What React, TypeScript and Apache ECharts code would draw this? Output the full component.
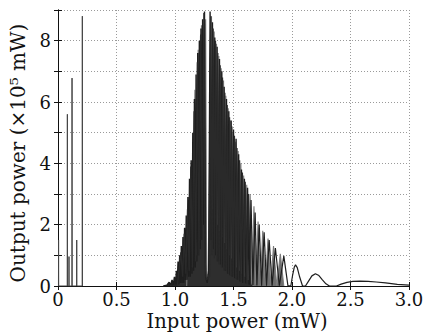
import React, { useEffect, useRef } from "react";
import * as echarts from "echarts";

// x-axis tick labels and y-axis tick labels
const xTicks = ["0", "0.5", "1.0", "1.5", "2.0", "2.5", "3.0"];
const yTicks = ["0", "2", "4", "6", "8"];

// isolated spikes at low input power
const spikeX = [0.004, 0.005, 0.006, 0.079, 0.08, 0.081, 0.093, 0.094, 0.095, 0.119, 0.12, 0.121, 0.159, 0.16, 0.161, 0.207, 0.208, 0.209];
const spikeY = [0, 1.5, 0, 0, 5.6, 0, 0, 0.96, 0, 0, 6.78, 0, 0, 1.5, 0, 0, 8.8, 0];

// main oscillating branch, dense band (dark trace)
const darkX = [
  0.9, 0.93, 0.95, 0.96, 0.975, 0.985, 0.995,
  1.005, 1.012, 1.019, 1.026, 1.033, 1.04, 1.047, 1.054, 1.061, 1.068, 1.075, 1.082, 1.089, 1.096,
  1.103, 1.11, 1.117, 1.124, 1.131, 1.138, 1.145, 1.152, 1.159, 1.166, 1.173, 1.18, 1.187, 1.194,
  1.201, 1.208, 1.215, 1.222, 1.229, 1.236, 1.243, 1.252, 1.262, 1.275, 1.288, 1.3, 1.31, 1.32,
  1.33, 1.34, 1.35, 1.36, 1.37, 1.38, 1.39, 1.4, 1.41, 1.42, 1.43, 1.44, 1.45, 1.46, 1.47, 1.48,
  1.49, 1.5, 1.511, 1.522, 1.533, 1.544, 1.556, 1.568, 1.58, 1.593, 1.606, 1.62, 1.634,
];
const darkY = [
  0, 0.03, 0.12, 0.02, 0.2, 0.02, 0.3,
  0.05, 0.5, 0.05, 0.8, 0.05, 1.0, 0.1, 1.3, 0.1, 1.6, 0.1, 1.9, 0.2, 2.3,
  0.2, 2.9, 0.3, 3.5, 0.3, 4.1, 0.4, 5.0, 0.5, 6.1, 0.6, 6.9, 0.8, 7.6,
  1.0, 8.0, 1.2, 8.4, 1.5, 8.7, 2.0, 8.95, 0.3, 0.1, 0.5, 8.95, 1.5, 8.6,
  1.2, 8.1, 1.0, 7.8, 0.8, 7.4, 0.7, 7.0, 0.6, 6.5, 0.5, 6.1, 0.4, 5.7, 0.35, 5.4,
  0.3, 5.1, 0.25, 4.8, 0.2, 4.3, 0.15, 3.8, 0.1, 3.5, 0.08, 3.2, 0.05,
];

// same branch beyond the dense band: decaying oscillations and the slow tail
const tailX = [
  1.634, 1.65, 1.666, 1.685, 1.7, 1.72, 1.74, 1.762, 1.782, 1.805, 1.83, 1.858, 1.892, 1.93, 1.965, 1.99,
  2.005, 2.02, 2.03, 2.045, 2.065, 2.09, 2.115, 2.14, 2.17, 2.2, 2.23, 2.26, 2.29, 2.32, 2.38,
  2.42, 2.47, 2.52, 2.58, 2.65, 2.72, 2.8, 2.9, 3.0,
];
const tailY = [
  0.05, 2.8, 0.03, 2.4, 0.02, 2.0, 0.01, 1.75, 0.01, 1.5, 0.01, 1.24, 0.01, 0.98, 0.01, 0,
  0.35, 0.62, 0.69, 0.6, 0.3, 0, 0, 0.15, 0.33, 0.4, 0.34, 0.2, 0.07, 0, 0,
  0.06, 0.12, 0.15, 0.16, 0.15, 0.13, 0.1, 0.05, 0.03,
];

// a second dark trace, interleaved with the first inside the dense band
const dark2X = [
  1.02, 1.05, 1.065, 1.079, 1.093, 1.107, 1.121, 1.135, 1.149, 1.163,
  1.177, 1.191, 1.205, 1.219, 1.233, 1.247, 1.256, 1.266, 1.296, 1.306,
  1.316, 1.326, 1.336, 1.346, 1.356, 1.366, 1.376, 1.386, 1.396, 1.406,
  1.416, 1.426, 1.436, 1.446, 1.456, 1.466, 1.476, 1.486, 1.497, 1.508,
  1.519, 1.53, 1.541, 1.552, 1.564, 1.576, 1.588, 1.6, 1.614, 1.628,
  1.645, 1.66,
];
const dark2Y = [
  0, 1.1, 0.3, 1.7, 0.4, 2.5, 0.5, 3.9, 0.6, 5.7,
  0.8, 7.3, 1.0, 8.2, 1.5, 8.9, 1.0, 0.2, 0.3, 8.8,
  1.0, 8.4, 0.9, 8.0, 0.8, 7.6, 0.7, 7.2, 0.6, 6.8,
  0.5, 6.3, 0.5, 5.9, 0.4, 5.5, 0.35, 5.2, 0.3, 4.9,
  0.25, 4.5, 0.2, 4.1, 0.15, 3.7, 0.1, 3.4, 0.08, 3.0,
  0.05, 0,
];

// lighter trace interleaved with the dark ones
const lightX = [
  1.1, 1.115, 1.128, 1.142, 1.156, 1.17, 1.184, 1.198, 1.212, 1.226, 1.24, 1.262, 1.27, 1.282,
  1.312, 1.325, 1.335, 1.345, 1.355, 1.365, 1.375, 1.385, 1.395, 1.405, 1.415, 1.425, 1.435,
  1.445, 1.455, 1.465, 1.475, 1.485, 1.496, 1.507, 1.518, 1.529, 1.54, 1.551, 1.563, 1.575,
  1.587, 1.6, 1.613, 1.627, 1.642, 1.658, 1.675, 1.692, 1.71, 1.73, 1.75, 1.772, 1.795, 1.818,
  1.842, 1.87, 1.9, 1.93,
];
const lightY = [
  0, 2.6, 0.5, 4.0, 0.6, 6.4, 1.0, 7.7, 1.5, 8.5, 3.0, 8.7, 0.4, 0.3,
  8.8, 2.5, 8.3, 2.2, 7.9, 2.0, 7.5, 1.8, 7.1, 1.6, 6.7, 1.4, 6.2,
  1.2, 5.8, 1.0, 5.4, 0.9, 5.0, 0.8, 4.7, 0.6, 4.4, 0.5, 4.0, 0.4,
  3.6, 0.3, 3.3, 0.2, 3.0, 0.1, 2.6, 0.05, 2.1, 0.02, 1.8, 0.01, 1.55, 0.01,
  1.3, 0.01, 1.05, 0,
];

const pairs = (xs: number[], ys: number[]) => xs.map((x, i) => [x, ys[i]]);

const FONT = "DejaVu Serif";

export default function App() {
  const ref = useRef<HTMLDivElement>(null);
  useEffect(() => {
    if (!ref.current) return;
    const chart = echarts.init(ref.current, undefined, { renderer: "svg" });
    const axisLine = { show: true, lineStyle: { color: "#111", width: 1 } };
    const ticks = { show: true, inside: true, length: 4, lineStyle: { color: "#111" } };
    const grid = { show: true, lineStyle: { color: "#9a9a9a", type: [1, 2], width: 1 } };
    chart.setOption({
      animation: false,
      backgroundColor: "#fff",
      grid: { left: 58, right: 21, top: 10, bottom: 49, containLabel: false },
      xAxis: [
        {
          type: "value",
          min: 0,
          max: 3,
          interval: 0.5,
          axisLine,
          axisTick: ticks,
          axisLabel: {
            margin: 5,
            color: "#111",
            fontFamily: FONT,
            fontSize: 18,
            lineHeight: 16,
            formatter: (v: number) => xTicks[Math.round(v / 0.5)] ?? "",
          },
          splitLine: grid,
        },
        {
          type: "value",
          position: "top",
          min: 0,
          max: 3,
          interval: 0.5,
          axisLine,
          axisTick: ticks,
          axisLabel: { show: false },
          splitLine: { show: false },
        },
      ],
      yAxis: [
        {
          type: "value",
          min: 0,
          max: 9,
          interval: 1,
          axisLine,
          axisTick: ticks,
          axisLabel: {
            margin: 7,
            color: "#111",
            fontFamily: FONT,
            fontSize: 18,
            formatter: (v: number) => (v % 2 === 0 ? yTicks[v / 2] ?? "" : ""),
          },
          splitLine: grid,
        },
        {
          type: "value",
          position: "right",
          min: 0,
          max: 9,
          interval: 1,
          axisLine,
          axisTick: ticks,
          axisLabel: { show: false },
          splitLine: { show: false },
        },
      ],
      graphic: [
        {
          type: "text",
          x: 237,
          y: 321,
          style: {
            text: "Input power (mW)",
            font: `19.5px "${FONT}"`,
            lineHeight: 17,
            fill: "#111",
            align: "center",
            verticalAlign: "middle",
          },
        },
        {
          type: "text",
          x: 18,
          y: 153,
          rotation: Math.PI / 2,
          style: {
            text: "Output power (×10⁵ mW)",
            font: `20px "${FONT}"`,
            fill: "#111",
            align: "center",
            verticalAlign: "middle",
          },
        },
      ],
      series: [
        {
          type: "line",
          data: pairs(spikeX, spikeY),
          showSymbol: false,
          lineStyle: { color: "#444", width: 1 },
          silent: true,
        },
        {
          type: "line",
          data: pairs(lightX, lightY),
          showSymbol: false,
          lineStyle: { color: "#7a7a7a", width: 1.1 },
          areaStyle: { color: "#6e6e6e", opacity: 1 },
          silent: true,
        },
        {
          type: "line",
          data: pairs(darkX, darkY),
          showSymbol: false,
          lineStyle: { color: "#1e1e1e", width: 1.4 },
          areaStyle: { color: "#262626", opacity: 1 },
          silent: true,
        },
        {
          type: "line",
          data: pairs(dark2X, dark2Y),
          showSymbol: false,
          lineStyle: { color: "#2a2a2a", width: 1.3 },
          areaStyle: { color: "#2e2e2e", opacity: 1 },
          silent: true,
        },
        {
          type: "line",
          data: pairs(tailX, tailY),
          showSymbol: false,
          lineStyle: { color: "#1e1e1e", width: 1.2 },
          silent: true,
        },
      ],
    });
    return () => chart.dispose();
  }, []);
  return <div ref={ref} style={{ width: 430, height: 335, position: "absolute", left: 0, top: 0 }} />;
}
